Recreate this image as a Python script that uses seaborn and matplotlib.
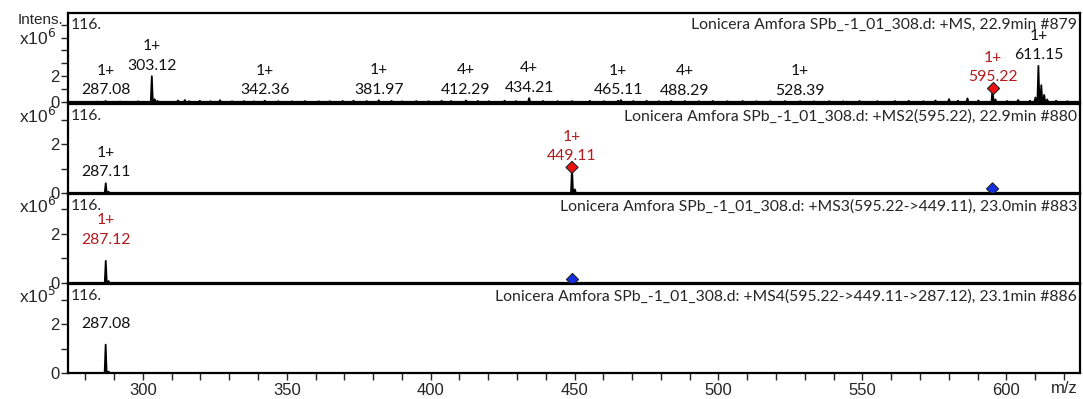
import numpy as np
import pandas as pd
import matplotlib
matplotlib.use("Agg")
import matplotlib.pyplot as plt
import seaborn as sns

sns.set_style("white")
plt.rcParams["font.family"] = ["Liberation Sans", "DejaVu Sans"]

# ---- spectra (intensity in units of the panel's x10^n factor) ----
ms1_mz = [284.2, 287.08, 292.1, 298.4, 303.12, 304.12, 305.1, 312.2, 314.6, 316.1, 319.8,
          323.5, 326.8, 331.0, 335.2, 338.6, 342.36, 347.1, 351.9, 356.3, 361.2, 365.0,
          369.4, 373.2, 377.8, 381.97, 386.4, 390.1, 395.0, 399.3, 403.8, 407.1, 412.29,
          416.4, 420.2, 425.7, 429.6, 434.21, 439.0, 444.1, 449.1, 455.3, 460.2, 465.11,
          466.1, 470.4, 475.0, 479.3, 483.6, 488.29, 493.2, 498.0, 503.1, 508.4, 513.2,
          518.0, 523.1, 528.39, 533.2, 538.5, 543.3, 549.0, 555.2, 561.3, 566.1, 571.2,
          575.4, 580.1, 583.2, 586.5, 590.3, 595.22, 596.2, 600.3, 604.1, 608.2, 610.1,
          611.15, 612.15, 613.15, 614.2, 617.3, 621.2]
ms1_int = [0.03, 0.08, 0.04, 0.05, 2.0, 0.22, 0.08, 0.12, 0.15, 0.06, 0.10,
           0.06, 0.14, 0.05, 0.07, 0.05, 0.10, 0.06, 0.05, 0.07, 0.05, 0.06,
           0.08, 0.10, 0.07, 0.14, 0.08, 0.05, 0.07, 0.06, 0.09, 0.07, 0.12,
           0.08, 0.06, 0.10, 0.07, 0.30, 0.08, 0.06, 0.07, 0.09, 0.06, 0.10,
           0.15, 0.07, 0.09, 0.06, 0.08, 0.07, 0.06, 0.08, 0.06, 0.07, 0.05,
           0.06, 0.07, 0.06, 0.05, 0.06, 0.05, 0.08, 0.06, 0.07, 0.09, 0.06,
           0.12, 0.22, 0.10, 0.28, 0.12, 1.1, 0.20, 0.08, 0.15, 0.10, 0.35,
           2.8, 1.3, 0.55, 0.20, 0.10, 0.06]

ms2_mz = [287.11, 288.1, 449.11, 450.1]
ms2_int = [0.40, 0.05, 1.05, 0.15]

ms3_mz = [287.12, 288.1]
ms3_int = [0.90, 0.08]

ms4_mz = [287.08, 288.1]
ms4_int = [1.17, 0.06]

# ---- peak annotations: (m/z, charge, highlighted) ----
ms1_labels = [(287.08, "1+", False), (303.12, "1+", False), (342.36, "1+", False),
              (381.97, "1+", False), (412.29, "4+", False), (434.21, "4+", False),
              (465.11, "1+", False), (488.29, "4+", False), (528.39, "1+", False),
              (595.22, "1+", True), (611.15, "1+", False)]
ms2_labels = [(287.11, "1+", False), (449.11, "1+", True)]
ms3_labels = [(287.12, "1+", True)]
ms4_labels = [(287.08, None, False)]

# precursor markers: (m/z, intensity, kind)
ms1_prec = [(595.22, 1.1, "sel")]
ms2_prec = [(449.11, 1.05, "sel"), (595.22, 0.17, "parent")]
ms3_prec = [(449.11, 0.17, "parent")]
ms4_prec = []

titles = [
    "Lonicera Amfora SPb_-1_01_308.d: +MS, 22.9min #879",
    "Lonicera Amfora SPb_-1_01_308.d: +MS2(595.22), 22.9min #880",
    "Lonicera Amfora SPb_-1_01_308.d: +MS3(595.22->449.11), 23.0min #883",
    "Lonicera Amfora SPb_-1_01_308.d: +MS4(595.22->449.11->287.12), 23.1min #886",
]
exponents = ["6", "6", "6", "5"]
ylims = [6.9, 3.65, 3.62, 3.67]
yticks_max = [6, 3, 3, 3]

XMIN, XMAX = 274.0, 625.6
RED_TXT = "#b3191d"
ANN_FONT = ["Lato", "DejaVu Sans"]
ANN_SIZE = 11.3
# vertical gap (points) between each panel's peak tops and their labels
label_gaps = [2.5, 3.0, 10.0, 10.0]


def profile(mz, inten, half=0.35):
    xs, ys = [], []
    for m, h in zip(mz, inten):
        xs += [m - half, m, m + half]
        ys += [0.0, h, 0.0]
    order = np.argsort(np.array(xs), kind="stable")
    return pd.DataFrame({"mz": np.array(xs)[order], "intensity": np.array(ys)[order]})


fig = plt.figure(figsize=(10.83, 3.99), dpi=100)
W, H = 1083, 399
left = 68 / W
width = (1080 - 68) / W
tops = [13, 104, 194, 284]
bottoms = [102, 193, 283, 373]

spectra = [(ms1_mz, ms1_int), (ms2_mz, ms2_int), (ms3_mz, ms3_int), (ms4_mz, ms4_int)]
labels = [ms1_labels, ms2_labels, ms3_labels, ms4_labels]
precs = [ms1_prec, ms2_prec, ms3_prec, ms4_prec]

for i in range(4):
    ax = fig.add_axes([left, 1 - bottoms[i] / H, width, (bottoms[i] - tops[i]) / H])
    mz, inten = spectra[i]
    df = profile(mz, inten)
    sns.lineplot(data=df, x="mz", y="intensity", ax=ax, color="black", lw=1.3,
                 estimator=None, sort=False)
    ax.set_xlim(XMIN, XMAX)
    ax.set_ylim(0, ylims[i])
    ax.set_xlabel("")
    ax.set_ylabel("")
    for s in ax.spines.values():
        s.set_linewidth(1.6)
        s.set_color("black")

    ticks = list(range(0, yticks_max[i] + 1))
    ax.set_yticks(ticks)
    ax.set_yticklabels([str(t) if t in (0, 2) else "" for t in ticks])
    ax.tick_params(axis="y", direction="out", length=5, width=1, labelsize=12, pad=1,
                   left=True)

    if i < 3:
        ax.set_xticks([])
    else:
        ax.set_xticks(range(300, 601, 50))
        ax.set_xticks(range(280, 621, 10), minor=True)
        ax.tick_params(axis="x", which="both", direction="out", length=5, width=1,
                       labelsize=12, pad=2, bottom=True)
        ax.text(620, -0.085, "m/z", transform=ax.get_xaxis_transform(), ha="center",
                va="top", fontsize=12)

    inten_map = dict(zip(mz, inten))
    for m, z, hl in labels[i]:
        h = inten_map[m]
        txt = f"{m:.2f}" if z is None else f"{z}\n{m:.2f}"
        ax.annotate(txt, xy=(m, h), xytext=(0, label_gaps[i]), textcoords="offset points",
                    ha="center", va="bottom", fontsize=ANN_SIZE, linespacing=1.5,
                    color=RED_TXT if hl else "#111111", family=ANN_FONT)

    if precs[i]:
        pdf = pd.DataFrame(precs[i], columns=["mz", "intensity", "kind"])
        sns.scatterplot(data=pdf, x="mz", y="intensity", hue="kind", ax=ax,
                        palette={"sel": "#ee1111", "parent": "#1530e0"},
                        marker="D", s=38, edgecolor="#222222", linewidth=0.8,
                        legend=False, zorder=5, clip_on=False)
        ax.set_xlabel("")
        ax.set_ylabel("")

    ax.text(0.003, 0.94, "116.", transform=ax.transAxes, ha="left", va="top",
            fontsize=ANN_SIZE, family=ANN_FONT)
    ax.text(0.997, 0.94, titles[i], transform=ax.transAxes, ha="right", va="top",
            fontsize=ANN_SIZE, family=ANN_FONT)
    ey = 0.72 if i == 0 else 0.87
    ax.text(-0.012, ey, r"x10$^{%s}$" % exponents[i], transform=ax.transAxes,
            ha="right", va="center", fontsize=12.5)
    if i == 0:
        ax.text(-0.005, 0.92, "Intens.", transform=ax.transAxes, ha="right",
                va="center", fontsize=11)

fig.savefig("out.png", dpi=100)
